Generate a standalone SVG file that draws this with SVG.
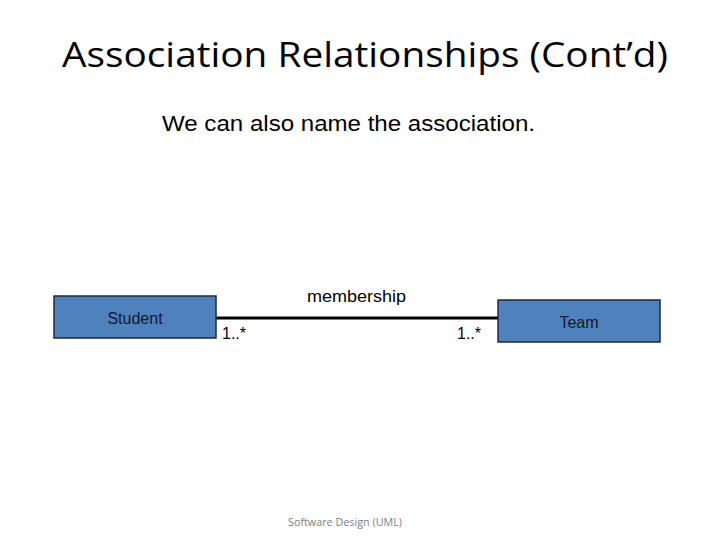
<svg xmlns="http://www.w3.org/2000/svg" width="720" height="540" viewBox="0 0 720 540">
<style>
.cls{fill:#4f81bd;stroke:#1f2a3d;stroke-width:1.5}
.lbl{font-family:"Liberation Sans",Arial,sans-serif;font-size:16px;fill:#000}
.nm{font-family:"Liberation Sans",Arial,sans-serif;font-size:16px;fill:#111a2e;text-anchor:middle}
</style>
<rect width="720" height="540" fill="#fff"/>
<text x="62" y="67" font-family="'Open Sans','Noto Sans',sans-serif" font-size="35" textLength="606" lengthAdjust="spacingAndGlyphs">Association Relationships (Cont’d)</text>
<text x="162" y="131" font-family="'Liberation Sans',Arial,sans-serif" font-size="22" textLength="373" lengthAdjust="spacingAndGlyphs">We can also name the association.</text>
<g id="connectors">
<line x1="216" y1="318" x2="498" y2="318" stroke="#000" stroke-width="3"/>
<text class="lbl" x="307" y="302" textLength="99" lengthAdjust="spacingAndGlyphs">membership</text>
<text class="lbl" x="222" y="339">1..*</text>
<text class="lbl" x="457" y="339">1..*</text>
</g>
<g id="student">
<rect class="cls" x="54" y="296" width="162" height="42"/>
<text class="nm" x="135" y="324">Student</text>
</g>
<g id="team">
<rect class="cls" x="498" y="300" width="162" height="42"/>
<text class="nm" x="579" y="328">Team</text>
</g>
<text x="345" y="526" font-family="'Open Sans','Noto Sans',sans-serif" font-size="11" fill="#808080" text-anchor="middle" textLength="114" lengthAdjust="spacingAndGlyphs">Software Design (UML)</text>
</svg>
